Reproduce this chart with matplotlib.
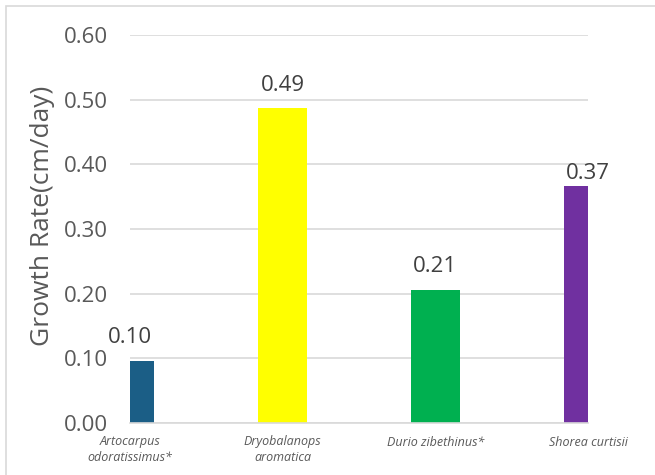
import matplotlib
matplotlib.use("Agg")
import matplotlib.pyplot as plt
from matplotlib.patches import Rectangle

categories = ["Artocarpus\nodoratissimus*", "Dryobalanops\naromatica",
              "Durio zibethinus*", "Shorea curtisii"]
values = [0.096, 0.487, 0.206, 0.366]
colors = ["#1B5E86", "#FFFF00", "#00B050", "#7030A0"]
yticks = [0.0, 0.1, 0.2, 0.3, 0.4, 0.5, 0.6]
label_offsets = [9, 9, 9, 2]

plt.rcParams['font.family'] = ['Open Sans', 'DejaVu Sans']
W, H = 655, 475
fig = plt.figure(figsize=(W / 100, H / 100), dpi=100)
ax = fig.add_axes([130 / W, (H - 423) / H, (588 - 130) / W, (423 - 35) / H])

x = list(range(len(categories)))
bars = ax.bar(x, values, width=0.32, color=colors, zorder=3)

ax.set_xlim(0, len(categories) - 1)
ax.set_ylim(0, 0.6)
ax.set_yticks(yticks)
ax.set_yticklabels([f"{v:.2f}" for v in yticks])
ax.set_xticks(x)
ax.set_xticklabels(categories, fontstyle='italic', fontsize=9, color='#595959',
                   linespacing=1.25)
ax.tick_params(axis='y', length=0, pad=16, labelsize=16, labelcolor='#595959')
ax.tick_params(axis='x', length=0, pad=9)
ax.grid(axis='y', color='#D9D9D9', linewidth=1.2, zorder=0)
for s in ['top', 'right', 'left']:
    ax.spines[s].set_visible(False)
ax.spines['bottom'].set_color('#D9D9D9')
ax.spines['bottom'].set_linewidth(1.2)
ax.spines['bottom'].set_zorder(4)

for b, v, off in zip(bars, values, label_offsets):
    ax.annotate(f"{v:.2f}", (b.get_x() + b.get_width() / 2, v),
                xytext=(0, off), textcoords='offset points',
                ha='center', va='bottom', fontsize=16, color='#404040',
                annotation_clip=False)

ax.set_ylabel("Growth Rate(cm/day)", fontsize=19, color='#595959')
ax.yaxis.set_label_coords(43 / W, (H - 216) / H, transform=fig.transFigure)
ax.yaxis.label.set_verticalalignment('center')

fig.patches.append(Rectangle((5.5 / W, -0.5), 2, (H - 6) / H + 0.5,
                             transform=fig.transFigure, fill=False,
                             edgecolor='#D9D9D9', linewidth=1.2))

fig.savefig("out.png", dpi=100)
